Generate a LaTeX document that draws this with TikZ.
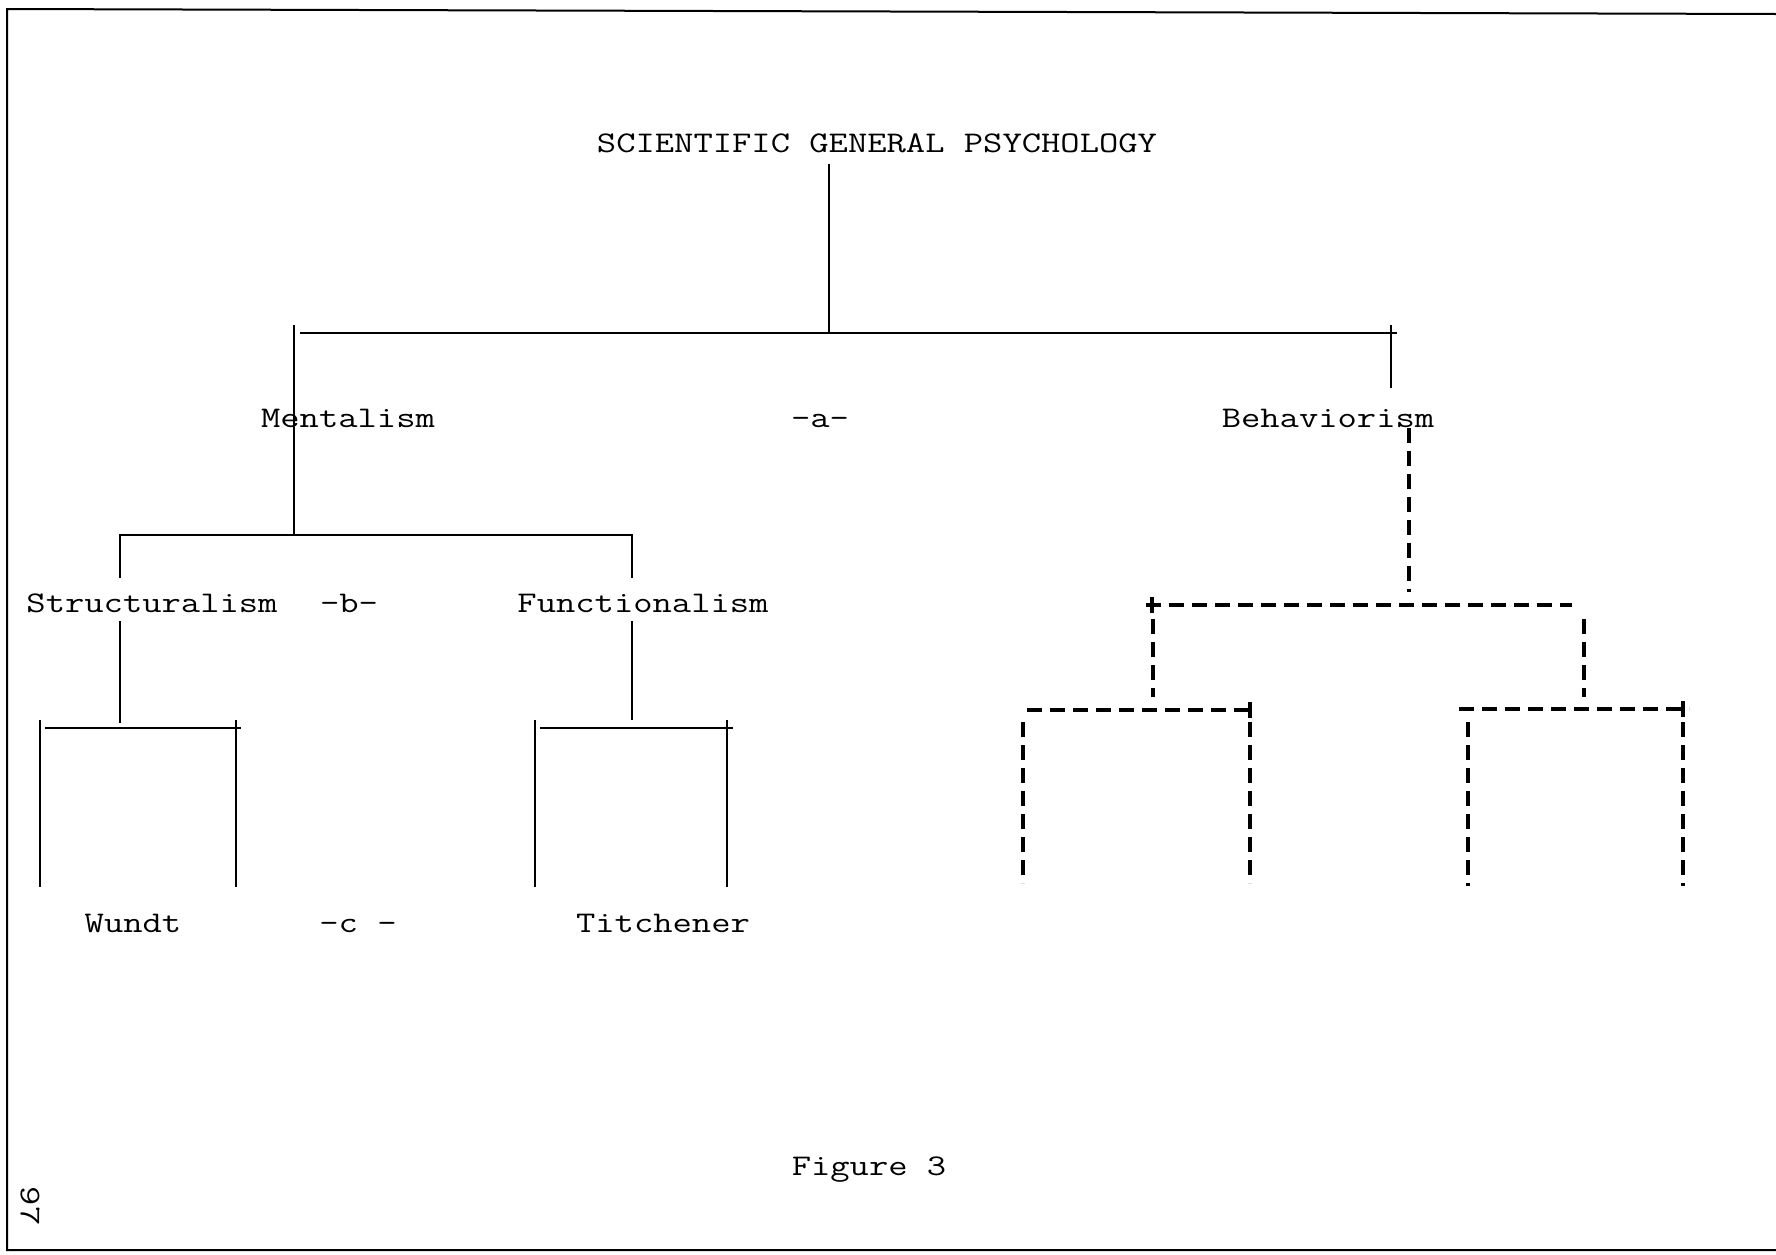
\documentclass[tikz,border=0pt]{standalone}
\usepackage{graphicx}
\newcommand{\tw}[1]{\scalebox{1.25}[1]{#1}}
\begin{document}
\begin{tikzpicture}[x=0.5pt,y=-0.5pt,
  lbl/.style={font=\fontsize{15}{18}\selectfont\ttfamily, inner sep=0pt, anchor=base},
  solidln/.style={line width=1.3pt},
  dashln/.style={line width=2pt, dash pattern=on 7.5pt off 4pt},
  plusln/.style={line width=1.8pt},
  frameln/.style={line width=1pt}]
\useasboundingbox (0,0) rectangle (1776,1254);
% frame
\coordinate (fTL) at (7,9);
\coordinate (fTR) at (1776,14);
\coordinate (fBL) at (7,1250);
\coordinate (fBR) at (1776,1250);
\draw[frameln] (fTR) -- (fTL) -- (fBL) -- (fBR);
% labels
\node[lbl] (title) at (877,152) {\tw{SCIENTIFIC GENERAL PSYCHOLOGY}};
\node[lbl] (ment) at (348,427) {\tw{Mentalism}};
\node[lbl] (a) at (820,427) {\tw{-a-}};
\node[lbl] (beh) at (1328,427) {\tw{Behaviorism}};
\node[lbl] (struc) at (152,612) {\tw{Structuralism}};
\node[lbl] (b) at (349,612) {\tw{-b-}};
\node[lbl] (func) at (643,612) {\tw{Functionalism}};
\node[lbl] (wundt) at (133,932) {\tw{Wundt}};
\node[lbl] (c) at (358,932) {\tw{-c -}};
\node[lbl] (titch) at (663,932) {\tw{Titchener}};
\node[lbl] (fig) at (869,1175) {\tw{Figure 3}};
\node[lbl, rotate=-90, anchor=center] (pg) at (30,1206) {\tw{97}};
% top level
\coordinate (t0) at (829,164);
\coordinate (t1) at (829,333);
\coordinate (h0) at (300,333);
\coordinate (h1) at (1397,333);
\coordinate (mv0) at (294,325);
\coordinate (mv1) at (294,535);
\coordinate (bv0) at (1391,325);
\coordinate (bv1) at (1391,388);
\draw[solidln] (t0) -- (t1);
\draw[solidln] (h0) -- (h1);
\draw[solidln] (mv0) -- (mv1);
\draw[solidln] (bv0) -- (bv1);
% mentalism level 2
\coordinate (m2a) at (120,535);
\coordinate (m2b) at (632,535);
\coordinate (m2a1) at (120,578);
\coordinate (m2b1) at (632,578);
\draw[solidln] (m2a1) -- (m2a) -- (m2b) -- (m2b1);
\coordinate (s0) at (120,621);
\coordinate (s1) at (120,723);
\coordinate (f0) at (632,621);
\coordinate (f1) at (632,720);
\draw[solidln] (s0) -- (s1);
\draw[solidln] (f0) -- (f1);
% mentalism level 3
\coordinate (sl0) at (45,728);
\coordinate (sl1) at (241,728);
\coordinate (slA0) at (40,720);
\coordinate (slA1) at (40,887);
\coordinate (slB0) at (236,720);
\coordinate (slB1) at (236,887);
\draw[solidln] (sl0) -- (sl1);
\draw[solidln] (slA0) -- (slA1);
\draw[solidln] (slB0) -- (slB1);
\coordinate (fl0) at (540,728);
\coordinate (fl1) at (733,728);
\coordinate (flA0) at (535,720);
\coordinate (flA1) at (535,887);
\coordinate (flB0) at (727,720);
\coordinate (flB1) at (727,887);
\draw[solidln] (fl0) -- (fl1);
\draw[solidln] (flA0) -- (flA1);
\draw[solidln] (flB0) -- (flB1);
% behaviorism dashed
\coordinate (bd0) at (1409,428);
\coordinate (bd1) at (1409,592);
\draw[dashln] (bd0) -- (bd1);
\coordinate (b2h0) at (1146,605);
\coordinate (b2h1) at (1572,605);
\draw[dashln] (b2h0) -- (b2h1);
\coordinate (b2p0) at (1152,597);
\coordinate (b2p1) at (1152,613);
\draw[plusln] (b2p0) -- (b2p1);
\coordinate (b2L0) at (1153,619);
\coordinate (b2L1) at (1153,697);
\coordinate (b2R0) at (1584,619);
\coordinate (b2R1) at (1584,697);
\draw[dashln] (b2L0) -- (b2L1);
\draw[dashln] (b2R0) -- (b2R1);
% behaviorism level 3 left
\coordinate (b3h0) at (1027,710);
\coordinate (b3h1) at (1256,710);
\draw[dashln] (b3h0) -- (b3h1);
\coordinate (b3p0) at (1250,702);
\coordinate (b3p1) at (1250,718);
\draw[plusln] (b3p0) -- (b3p1);
\coordinate (b3A0) at (1023,722);
\coordinate (b3A1) at (1023,883);
\coordinate (b3B0) at (1250,722);
\coordinate (b3B1) at (1250,883);
\draw[dashln] (b3A0) -- (b3A1);
\draw[dashln] (b3B0) -- (b3B1);
% behaviorism level 3 right
\coordinate (b4h0) at (1459,709);
\coordinate (b4h1) at (1689,709);
\draw[dashln] (b4h0) -- (b4h1);
\coordinate (b4p0) at (1683,701);
\coordinate (b4p1) at (1683,717);
\draw[plusln] (b4p0) -- (b4p1);
\coordinate (b4A0) at (1468,722);
\coordinate (b4A1) at (1468,886);
\coordinate (b4B0) at (1683,722);
\coordinate (b4B1) at (1683,886);
\draw[dashln] (b4A0) -- (b4A1);
\draw[dashln] (b4B0) -- (b4B1);
\end{tikzpicture}
\end{document}
